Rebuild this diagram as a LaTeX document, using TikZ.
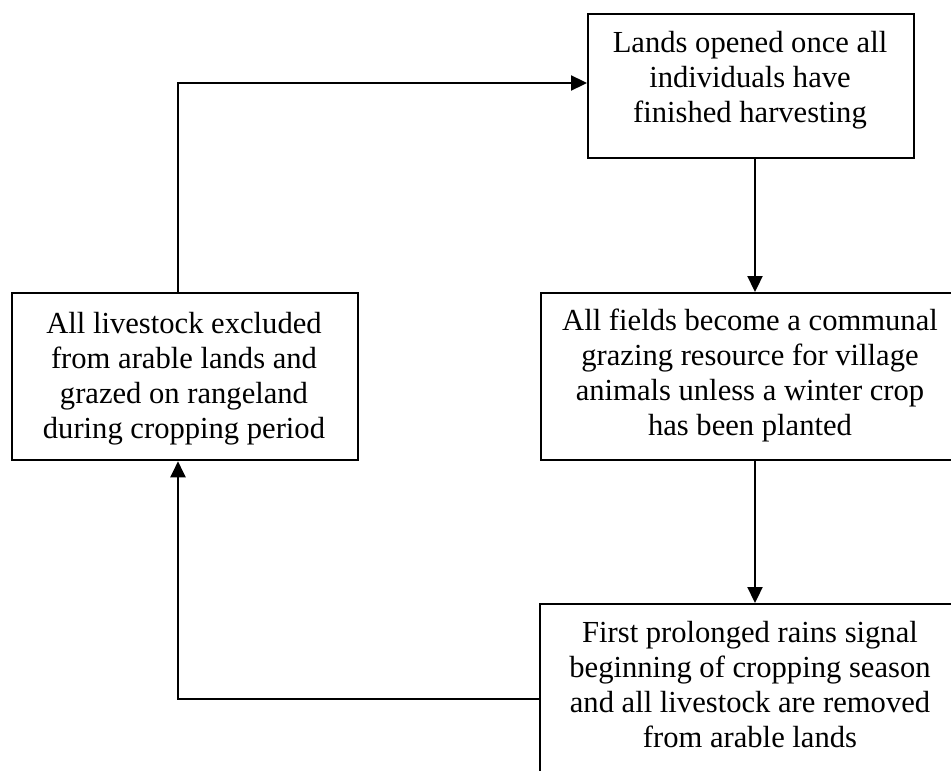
\documentclass[tikz,border=0pt]{standalone}
\usepackage{fontspec}
\setmainfont{Liberation Serif}
\usetikzlibrary{arrows.meta}
\begin{document}
\begin{tikzpicture}[x=1pt,y=-1pt,
  boxnode/.style={draw=black, line width=2.3pt, rectangle, inner sep=0pt, anchor=north west},
  txt/.style={align=center, inner sep=0pt, anchor=base, font=\fontsize{30.6}{34.8}\selectfont},
  arr/.style={line width=2.3pt, -{Triangle[length=16pt,width=15pt]}}]
\clip (0,0) rectangle (951,771);
\fill[white] (0,0) rectangle (951,771);
% boxes
\node[boxnode, minimum width=326pt, minimum height=144pt] (top) at (587,13) {};
\node[boxnode, minimum width=346pt, minimum height=167pt] (left) at (11,292) {};
\node[boxnode, minimum width=421pt, minimum height=167pt] (right) at (540,292) {};
\node[boxnode, minimum width=422pt, minimum height=200pt] (bottom) at (539,603) {};
% texts (anchored at the baseline of the last line)
\node[txt] (ttop) at (750,122) {Lands opened once all\\individuals have\\finished harvesting};
\node[txt] (tleft) at (184,438) {All livestock excluded\\from arable lands and\\grazed on rangeland\\during cropping period};
\node[txt] (tright) at (750,435) {All fields become a communal\\grazing resource for village\\animals unless a winter crop\\has been planted};
\node[txt] (tbottom) at (750,747) {First prolonged rains signal\\beginning of cropping season\\and all livestock are removed\\from arable lands};
% connector helpers
\coordinate (cx) at (755,0);
\coordinate (lx) at (178,0);
\coordinate (ly) at (0,699);
\coordinate (ty) at (0,83);
\coordinate (c3) at (178,699);
\coordinate (c4) at (178,83);
% connectors
\draw[arr] (top.south -| cx) -- (right.north -| cx);
\draw[arr] (right.south -| cx) -- (bottom.north -| cx);
\draw[arr] (bottom.west |- ly) -- (c3) -- (left.south -| lx);
\draw[arr] (left.north -| lx) -- (c4) -- (top.west |- ty);
\end{tikzpicture}
\end{document}
